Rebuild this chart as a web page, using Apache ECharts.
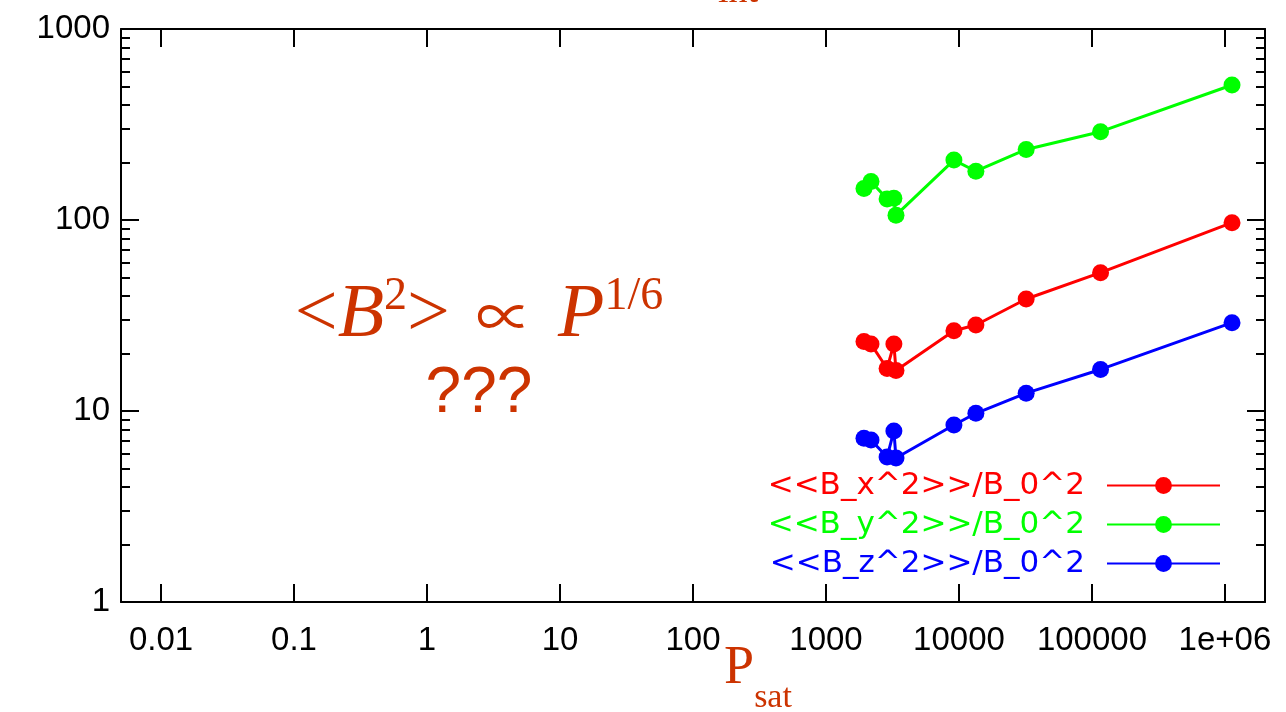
<!DOCTYPE html>
<html>
<head>
<meta charset="utf-8">
<script src="https://cdn.jsdelivr.net/npm/echarts@6/dist/echarts.min.js"></script>
<style>
  html, body { margin: 0; padding: 0; background: #fff; }
  #main { width: 1286px; height: 712px; }
</style>
</head>
<body>
<div id="main"></div>
<script>
// saturation power P_sat, same runs for all three components
var pSat = [1930, 2180, 2880, 3240, 3360, 9160, 13400, 32000, 116000, 1130000];
var bx2 = [23.1, 22.4, 16.7, 22.4, 16.3, 26.3, 28.2, 38.6, 53.0, 96.8];
var by2 = [146, 159, 129, 130, 106, 206, 180, 234, 290, 509];
var bz2 = [7.2, 7.05, 5.74, 7.86, 5.67, 8.45, 9.73, 12.4, 16.5, 29.0];

var seriesNames = ['<<B_x^2>>/B_0^2', '<<B_y^2>>/B_0^2', '<<B_z^2>>/B_0^2'];
var seriesColors = ['#ff0000', '#00ff00', '#0000ff'];
var xTickLabels = { '-2': '0.01', '-1': '0.1', '0': '1', '1': '10', '2': '100', '3': '1000', '4': '10000', '5': '100000', '6': '1e+06' };
var yTickLabels = { '0': '1', '1': '10', '2': '100', '3': '1000' };

var orange = '#cc3300';

function pairs(xs, ys) {
  return xs.map(function (x, i) { return [x, ys[i]]; });
}

function logLabel(table) {
  return function (v) {
    var e = Math.round(Math.log10(v));
    if (Math.abs(Math.log10(v) - e) > 1e-6) return '';
    return table[String(e)] || '';
  };
}

var axisLine = { show: true, onZero: false, lineStyle: { color: '#000', width: 2 } };
var majorTick = { show: true, inside: true, length: 18, lineStyle: { color: '#000', width: 2 } };
var minorTick = { show: true, length: 9, splitNumber: 9, lineStyle: { color: '#000', width: 2 } };

var myChart = echarts.init(document.getElementById('main'));
var option = {
  backgroundColor: '#fff',
  animation: false,
  grid: { left: 121, right: 21, top: 29, bottom: 110, outerBoundsMode: 'none', containLabel: false },
  xAxis: [
    {
      type: 'log', logBase: 10, min: 0.005, max: 2e6, position: 'bottom',
      axisLine: axisLine, axisTick: majorTick, splitLine: { show: false },
      axisLabel: {
        formatter: logLabel(xTickLabels), margin: 22, showMinLabel: false, showMaxLabel: false,
        color: '#000', fontSize: 33, fontFamily: 'Liberation Sans'
      },
      name: '{p|P}{s|sat}', nameLocation: 'middle', nameGap: 37, nameMoveOverlap: false,
      nameTextStyle: {
        padding: [0, 0, 0, 130],
        rich: {
          p: { fontFamily: 'Liberation Serif', fontSize: 54, color: orange, lineHeight: 60 },
          s: { fontFamily: 'Liberation Serif', fontSize: 34, color: orange, verticalAlign: 'bottom', padding: [0, 0, -16, 0] }
        }
      }
    },
    {
      type: 'log', logBase: 10, min: 0.005, max: 2e6, position: 'top',
      axisLine: axisLine, axisTick: majorTick, axisLabel: { show: false }, splitLine: { show: false }
    }
  ],
  yAxis: [
    {
      type: 'log', logBase: 10, min: 1, max: 1000, position: 'left',
      axisLine: axisLine, axisTick: majorTick, minorTick: minorTick,
      splitLine: { show: false }, minorSplitLine: { show: false },
      axisLabel: { formatter: logLabel(yTickLabels), margin: 11, color: '#000', fontSize: 33, fontFamily: 'Liberation Sans' }
    },
    {
      type: 'log', logBase: 10, min: 1, max: 1000, position: 'right',
      axisLine: axisLine, axisTick: majorTick, minorTick: minorTick,
      splitLine: { show: false }, minorSplitLine: { show: false },
      axisLabel: { show: false }
    }
  ],
  legend: {
    orient: 'vertical', align: 'right', right: 60, top: 465,
    itemWidth: 113, itemHeight: 21, itemGap: 8,
    textStyle: { fontFamily: 'DejaVu Sans', fontSize: 31, padding: [0, 17, 0, 0] },
    data: seriesNames.map(function (n, i) { return { name: n, textStyle: { color: seriesColors[i] } }; })
  },
  graphic: [
    {
      type: 'text', x: 738, y: -8,
      style: { text: 'int', fill: orange, font: '38px "Liberation Serif"', align: 'center', verticalAlign: 'middle' }
    },
    {
      type: 'text', x: 479, y: 316,
      style: {
        text: '{op|<}{it|B}{sup|2}{op|>}{gap| }{pr|\u221d}{gap| }{it|P}{sup|1/6}',
        align: 'center', verticalAlign: 'middle',
        rich: {
          op: { fontFamily: 'Liberation Serif', fontSize: 76, fill: orange, lineHeight: 84 },
          gap: { fontFamily: 'Liberation Serif', fontSize: 76, fill: orange, lineHeight: 84, width: 26 },
          pr: { fontFamily: 'Noto Sans CJK SC', fontSize: 56, fill: orange, lineHeight: 84 },
          it: { fontFamily: 'Liberation Serif', fontSize: 76, fontStyle: 'italic', fill: orange, lineHeight: 84 },
          sup: { fontFamily: 'Liberation Serif', fontSize: 46, fill: orange, verticalAlign: 'top' }
        }
      }
    },
    {
      type: 'text', x: 479, y: 394,
      style: { text: '???', fill: orange, font: '64px "Liberation Sans"', align: 'center', verticalAlign: 'middle' }
    }
  ],
  series: [bx2, by2, bz2].map(function (ys, i) {
    return {
      name: seriesNames[i], type: 'line', xAxisIndex: 0, yAxisIndex: 0,
      data: pairs(pSat, ys),
      symbol: 'circle', symbolSize: 17,
      color: seriesColors[i],
      lineStyle: { width: 3, color: seriesColors[i] },
      itemStyle: { color: seriesColors[i] }
    };
  })
};
myChart.setOption(option);
</script>
</body>
</html>
